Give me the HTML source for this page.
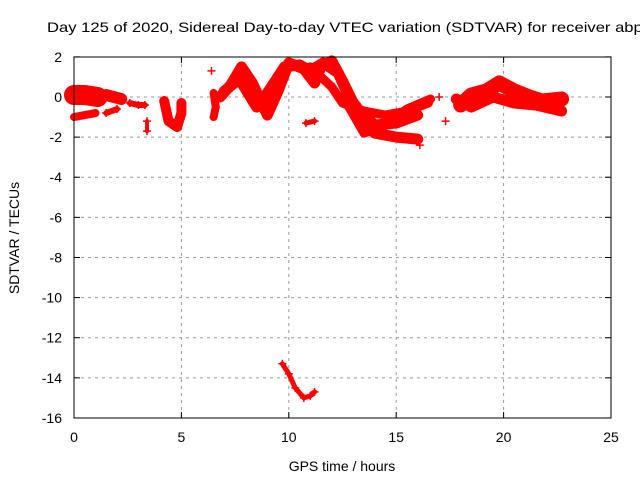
<!DOCTYPE html>
<html><head><meta charset="utf-8"><style>
body{margin:0;background:#fff;width:640px;height:480px;overflow:hidden}
svg{font-family:"Liberation Sans",sans-serif;font-size:14px}
</style></head><body>
<svg id="c" width="640" height="480">
<text x="47" y="32" textLength="605" lengthAdjust="spacingAndGlyphs">Day 125 of 2020, Sidereal Day-to-day VTEC variation (SDTVAR) for receiver abpo</text>
<text x="342" y="471" text-anchor="middle">GPS time / hours</text>
<text transform="translate(19,238) rotate(-90)" text-anchor="middle">SDTVAR / TECUs</text>
<g id="grid"></g><g id="marks"></g>
<rect x="74" y="57" width="537" height="361" fill="none" stroke="#000"/>
</svg>
<script>
const xTicks=[0,5,10,15,20,25];
const yTicks=[2,0,-2,-4,-6,-8,-10,-12,-14,-16];
const trackA=[[0,0.1],[0.5,0.1],[1.1,0.0]];
const trackB=[[0,-1.0],[0.5,-0.9],[1.0,-0.8]];
const trackC=[[1.5,0.1],[2.2,-0.1]];
const trackD=[[1.5,-0.8],[2.0,-0.6]];
const trackE=[[2.6,-0.3],[3.0,-0.4],[3.3,-0.4]];
const trackF=[[3.4,-1.2],[3.4,-1.7]];
const trackG=[[4.2,-0.2],[4.4,-1.2],[4.8,-1.5],[5.0,-0.8],[5.0,-0.3]];
const trackH=[[6.5,0.2],[6.6,-0.5],[6.5,-1.0]];
const trackI=[[6.8,0],[7.3,0.6],[7.8,1.5],[8.3,0.7],[9.0,-0.9],[9.5,0.3],[10.0,1.7],[10.7,1.4],[11.2,0.7],[11.5,1.5],[12.0,1.8],[12.5,0.8],[13.0,-0.3],[13.5,-1.3],[14.0,-1.8],[15,-2.0],[16,-2.1]];
const trackJ=[[7.0,0.3],[7.7,0.9],[8.5,-0.5],[9.0,0.2],[9.8,1.5],[10.5,1.6],[11.0,1.3],[11.6,1.7],[12.3,1.2],[12.8,0],[13.3,-0.7],[14,-1.4],[15,-1.3],[16,-0.9]];
const trackK=[[11,1.5],[12,0.5],[12.5,-0.3],[13.5,-0.7],[14.5,-0.9],[15.5,-0.7],[16.5,-0.3]];
const trackL=[[12.8,-0.5],[13.5,-1.8],[14.5,-1.4],[15.5,-0.6],[16.6,-0.1]];
const trackM=[[10.8,-1.3],[11.2,-1.2]];
const trackN=[[9.7,-13.3],[10.0,-13.8],[10.3,-14.5],[10.7,-15.0],[11.0,-14.9],[11.2,-14.7]];
const trackO=[[18.0,-0.4],[18.5,0.1],[19.2,0.3],[19.8,0.7],[20.5,0.3],[21.2,0.0],[21.8,-0.2],[22.7,-0.1]];
const trackP=[[17.8,-0.1],[18.5,-0.5],[19.5,0.0],[20.5,-0.3],[21.5,-0.4],[22.3,-0.6],[22.7,-0.7]];
const trackQ=[[17.0,0.0],[17.3,-1.2],[16.1,-2.4],[6.4,1.3]];
const tracks=[[trackA,20],[trackB,8],[trackC,12],[trackD,6],[trackE,6],[trackF,4],[trackG,10],[trackH,8],[trackI,11],[trackJ,11],[trackK,9],[trackL,9],[trackM,5],[trackN,5],[trackO,15],[trackP,11]];
const NS='http://www.w3.org/2000/svg';
const X=v=>74+v*537/25, Y=v=>97-v*20.06;
const grid=document.getElementById('grid'),marks=document.getElementById('marks');
function mk(t,a,p){const e=document.createElementNS(NS,t);for(const k in a)e.setAttribute(k,a[k]);p.appendChild(e);return e;}
xTicks.forEach(t=>{const x=X(t);
 if(t>0&&t<25){const l=mk('line',{x1:x,x2:x,y1:57,y2:418,stroke:'#999','stroke-dasharray':'3,4'},grid);}
 mk('line',{x1:x,x2:x,y1:418,y2:412,stroke:'#000'},grid);mk('line',{x1:x,x2:x,y1:57,y2:63,stroke:'#000'},grid);
 const s=mk('text',{x:x,y:442,'text-anchor':'middle'},grid);s.textContent=t;
 });
yTicks.forEach(t=>{const y=Y(t);
 if(t<2&&t>-16){const l=mk('line',{x1:74,x2:611,y1:y,y2:y,stroke:'#999','stroke-dasharray':'3,4'},grid);}
 mk('line',{x1:74,x2:80,y1:y,y2:y,stroke:'#000'},grid);mk('line',{x1:605,x2:611,y1:y,y2:y,stroke:'#000'},grid);
 const s=mk('text',{x:62,y:y+5,'text-anchor':'end'},grid);s.textContent=t;
 });
tracks.forEach(([pts,w])=>{
 const pl=mk('polyline',{points:pts.map(p=>X(p[0])+','+Y(p[1])).join(' '),fill:'none',stroke:'#f00','stroke-width':w,'stroke-linejoin':'round','stroke-linecap':'round'},marks);
 });
[...tracks.map(t=>t[0]),trackQ].forEach(pts=>pts.forEach(p=>{
 const g=mk('path',{d:`M${X(p[0])-4},${Y(p[1])}h8M${X(p[0])},${Y(p[1])-4}v8`,stroke:'#f00','stroke-width':1.5},marks);
 }));
</script>
</body></html>
